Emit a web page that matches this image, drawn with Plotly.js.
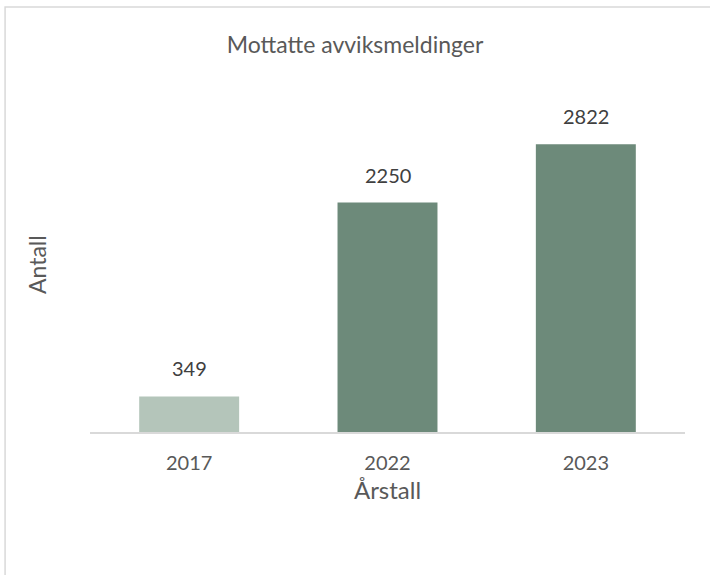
<!DOCTYPE html>
<html>
<head>
<meta charset="utf-8">
<script src="https://cdn.plot.ly/plotly-3.0.1.min.js"></script>
<style>body{margin:0;padding:0;background:#fff}#chart{width:710px;height:575px}</style>
</head>
<body>
<div id="chart"></div>
<script>
const categories = ['2017', '2022', '2023'];
const values = [349, 2250, 2822];
const barColors = ['#b4c5ba', '#6d8a7a', '#6d8a7a'];

const FONT = 'Lato, "Open Sans", sans-serif';

const trace = {
  type: 'bar',
  x: categories,
  y: values,
  marker: {color: barColors},
  hoverinfo: 'none'
};

const labels = categories.map((c, i) => ({
  x: i, y: values[i], xref: 'x', yref: 'y',
  text: String(values[i]),
  showarrow: false,
  yanchor: 'bottom',
  yshift: 14,
  font: {family: FONT, size: 20, color: '#404040'}
}));

const yTitle = {
  xref: 'paper', yref: 'paper',
  x: (37 - 90) / 595.5, y: (432 - 265) / 306,
  xanchor: 'center', yanchor: 'middle',
  text: 'Antall', textangle: -90, showarrow: false,
  font: {family: FONT, size: 23, color: '#595959'}
};

const layout = {
  width: 710,
  height: 575,
  margin: {l: 90, r: 24.5, t: 126, b: 143},
  paper_bgcolor: '#ffffff',
  plot_bgcolor: '#ffffff',
  bargap: 0.496,
  showlegend: false,
  font: {family: FONT, color: '#595959'},
  title: {
    text: 'Mottatte avviksmeldinger',
    font: {size: 23, color: '#595959'},
    x: 0.5, xref: 'container', xanchor: 'center',
    y: 1 - 45/575, yref: 'container', yanchor: 'middle'
  },
  xaxis: {
    type: 'category',
    categoryorder: 'array', categoryarray: categories,
    range: [-0.5, categories.length - 0.5],
    showline: true, linecolor: '#d9d9d9', linewidth: 1.5,
    showgrid: false, zeroline: false, ticks: '',
    tickfont: {size: 20, color: '#595959'},
    ticklabelstandoff: 12,
    title: {text: 'Årstall', font: {size: 24, color: '#595959'}, standoff: 9}
  },
  yaxis: {
    range: [0, 3000],
    showline: false, showgrid: false, zeroline: false,
    showticklabels: false, ticks: ''
  },
  annotations: labels.concat([yTitle]),
  shapes: [{
    type: 'rect', xref: 'paper', yref: 'paper',
    x0: (5 - 90) / 595.5, x1: 1.2,
    y0: -0.6, y1: (432 - 7) / 306,
    line: {color: '#d9d9d9', width: 1.5},
    fillcolor: 'rgba(0,0,0,0)', layer: 'below'
  }]
};

Plotly.newPlot('chart', [trace], layout, {displayModeBar: false, staticPlot: true});
</script>
</body>
</html>
